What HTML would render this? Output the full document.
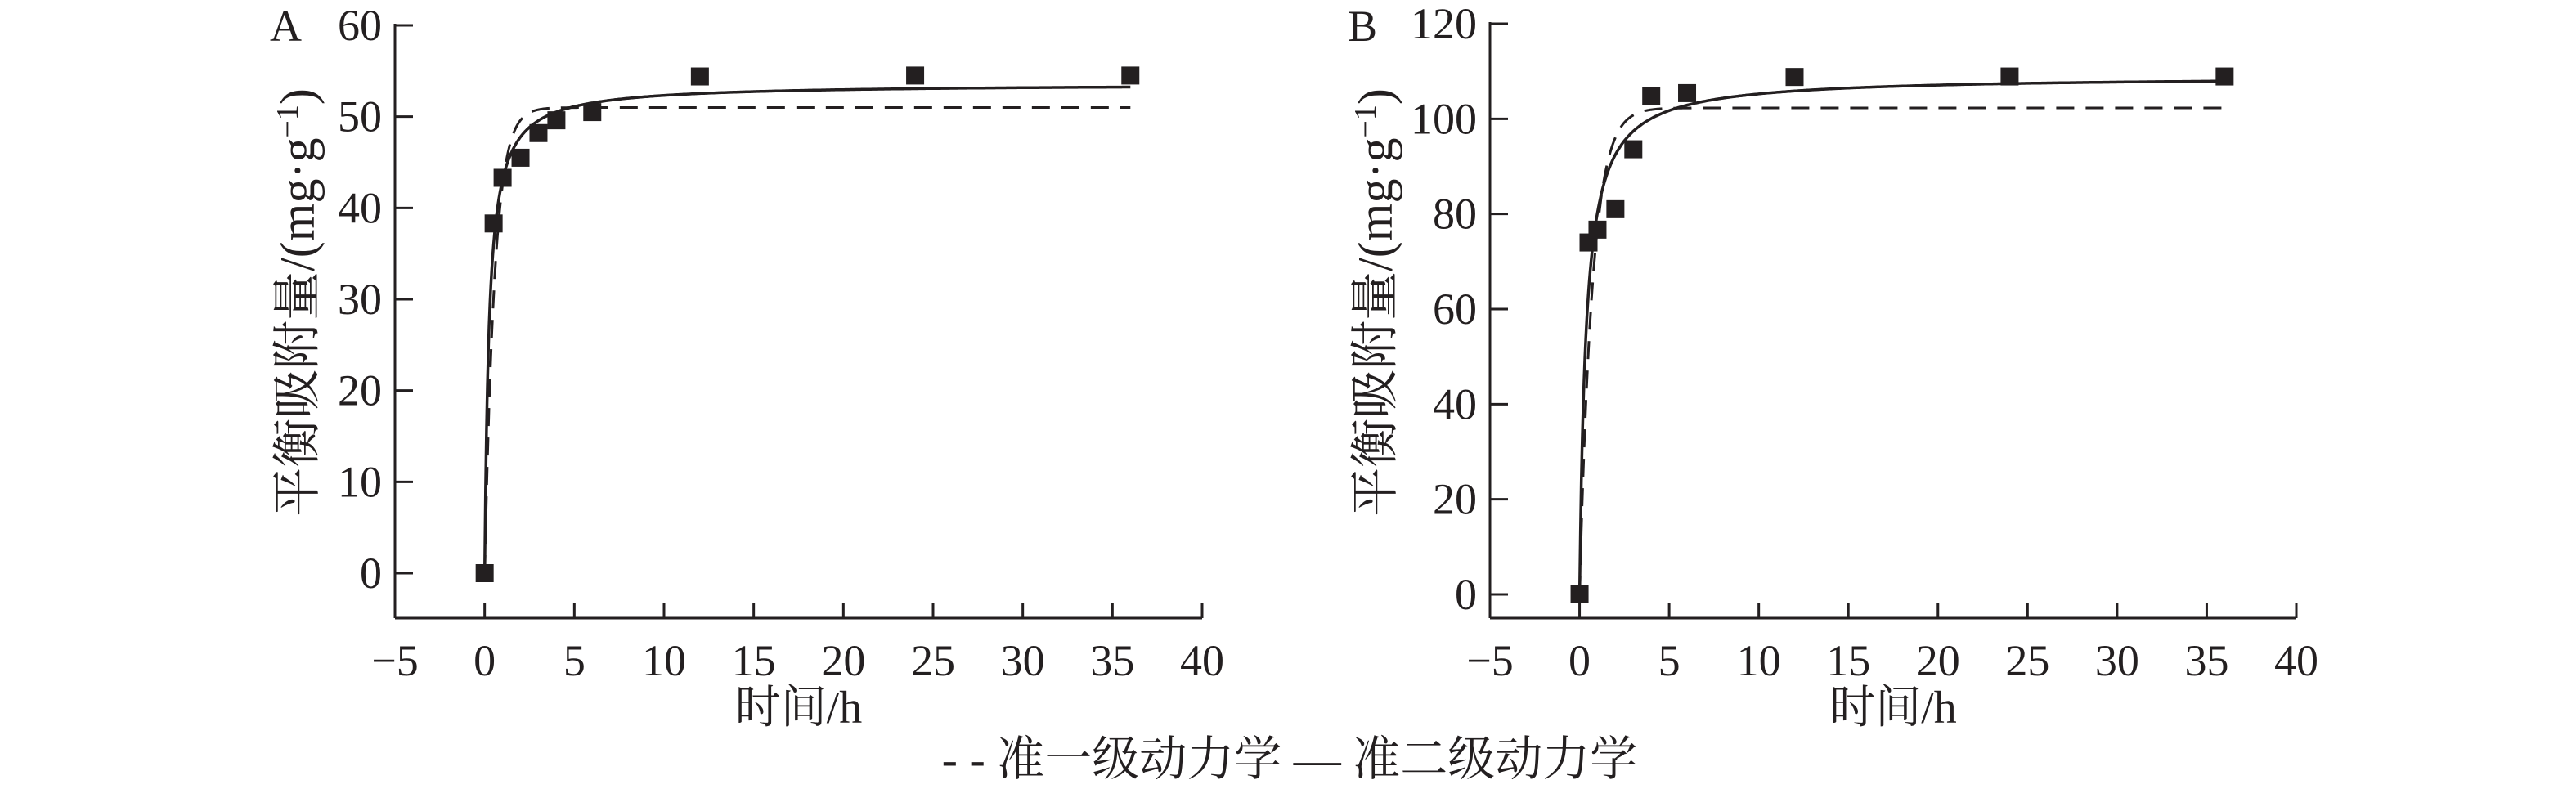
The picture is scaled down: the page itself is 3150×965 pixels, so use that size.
<!DOCTYPE html>
<html><head><meta charset="utf-8"><style>
html,body{margin:0;padding:0;background:#fff;}
svg{display:block;}
text{font-family:"Liberation Serif","Noto Serif CJK SC","Noto Sans CJK SC",serif;fill:#231f20;}
</style></head><body>
<svg id="s" width="3150" height="965" xmlns="http://www.w3.org/2000/svg">
</svg>
<script>
const S=document.getElementById('s');let h='';
function panel(o){
 const X=v=>o.x0+(v+5)*(o.x1-o.x0)/45;
 const Y=v=>o.y0-v*(o.y0-o.yt)/o.ymax;
 const ax=o.x0, ay=756;
 h+=`<line x1="${ax}" y1="${o.yt-2}" x2="${ax}" y2="${ay}" stroke="#231f20" stroke-width="3"/>`;
 h+=`<line x1="${ax}" y1="${ay}" x2="${o.x1}" y2="${ay}" stroke="#231f20" stroke-width="3"/>`;
 for(let v=-5;v<=40;v+=5){const x=X(v);h+=`<line x1="${x}" y1="${ay}" x2="${x}" y2="${ay-18}" stroke="#231f20" stroke-width="3"/>`;
  h+=`<text x="${x}" y="${ay+70}" font-size="54" text-anchor="middle">${v<0?'−'+(-v):v}</text>`;}
 for(let v=0;v<=o.ymax;v+=o.ystep){const y=Y(v);h+=`<line x1="${ax}" y1="${y}" x2="${ax+22}" y2="${y}" stroke="#231f20" stroke-width="3"/>`;
  h+=`<text x="${ax-16}" y="${y+18}" font-size="54" text-anchor="end">${v}</text>`;}
 h+=`<text x="${o.lx}" y="50" font-size="54">${o.L}</text>`;
 h+=`<text transform="translate(${o.yx},370) rotate(-90)" font-size="60" text-anchor="middle">平衡吸附量/(mg·g<tspan dy="-20" font-size="38">−1</tspan><tspan dy="20">)</tspan></text>`;
 h+=`<text x="${(o.x0+o.x1)/2}" y="884" font-size="56" text-anchor="middle">时间/h</text>`;
 let p1='',p2='';
 for(let i=0;i<=720;i++){const t=i*0.05;
  const q1=o.q1*(1-Math.exp(-o.k1*t));const q2=o.kq*o.q2*t/(1+o.kq*t);
  p1+=(i?'L':'M')+X(t).toFixed(1)+' '+Y(q1).toFixed(1);p2+=(i?'L':'M')+X(t).toFixed(1)+' '+Y(q2).toFixed(1);}
 h+=`<path d="${p1}" fill="none" stroke="#231f20" stroke-width="3" stroke-dasharray="22 14"/>`;
 h+=`<path d="${p2}" fill="none" stroke="#231f20" stroke-width="3.5"/>`;
 for(const [t,q] of o.d){h+=`<rect x="${X(t)-11}" y="${Y(q)-11}" width="22" height="22" fill="#231f20"/>`;}
}
panel({x0:483,x1:1470,y0:701,yt:31,ymax:60,ystep:10,L:'A',lx:330,yx:384,
 q1:51,k1:1.8,q2:53.6,kq:4.1,
 d:[[0,0],[0.5,38.3],[1,43.3],[2,45.5],[3,48.2],[4,49.6],[6,50.5],[12,54.4],[24,54.5],[36,54.5]]});
panel({x0:1822,x1:2808,y0:727,yt:29,ymax:120,ystep:20,L:'B',lx:1648,yx:1702,
 q1:102.3,k1:1.4,q2:109,kq:2.8,
 d:[[0,0],[0.5,74],[1,76.7],[2,81],[3,93.6],[4,104.8],[6,105.4],[12,108.8],[24,108.9],[36,108.9]]});
h+=`<text x="1577" y="948" font-size="58" text-anchor="middle">- - 准一级动力学 — 准二级动力学</text>`;
S.innerHTML=h;
</script>
</body></html>
